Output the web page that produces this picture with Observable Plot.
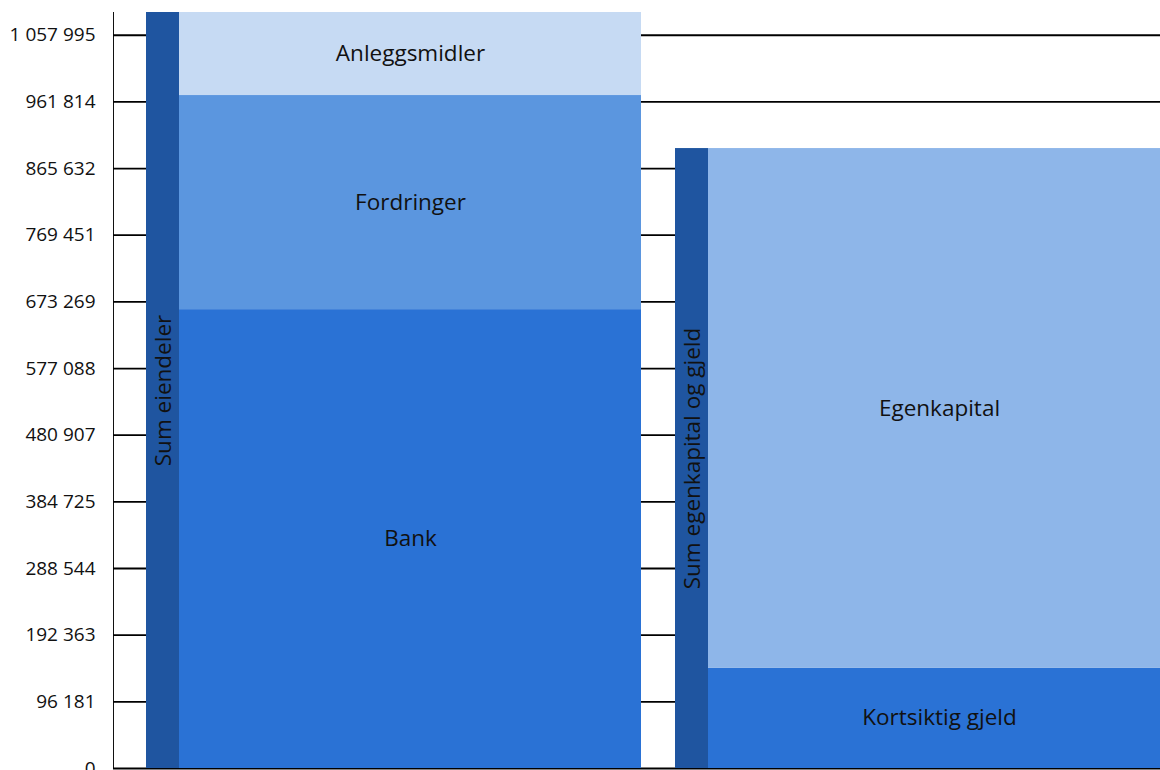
<!DOCTYPE html>
<html>
<head>
<meta charset="utf-8">
<script src="https://cdn.jsdelivr.net/npm/d3@7"></script>
<script src="https://cdn.jsdelivr.net/npm/@observablehq/plot@0.6"></script>
<style>
  html, body { margin: 0; padding: 0; background: #fff; overflow: hidden; }
  #chart { width: 1160px; height: 770px; overflow: hidden; }
</style>
</head>
<body>
<div id="chart"></div>
<script>
// ---- data ----
const groups = ["Eiendeler", "Egenkapital og gjeld"];

const sumLabels = ["Sum eiendeler", "Sum egenkapital og gjeld"];
const sumValues = [1090800, 894500];

const assetLabels = ["Bank", "Fordringer", "Anleggsmidler"];
const assetValues = [662100, 308900, 119800];

const liabLabels = ["Kortsiktig gjeld", "Egenkapital"];
const liabValues = [144900, 749600];

const tickValues = [0, 96181, 192363, 288544, 384725, 480907, 577088, 673269, 769451, 865632, 961814, 1057995];
const tickLabels = ["0", "96 181", "192 363", "288 544", "384 725", "480 907", "577 088", "673 269", "769 451", "865 632", "961 814", "1 057 995"];

const segmentColors = {
  "Bank": "#2A72D5",
  "Fordringer": "#5B96DF",
  "Anleggsmidler": "#C6DAF3",
  "Kortsiktig gjeld": "#2A72D5",
  "Egenkapital": "#8EB6E9"
};
const sumColor = "#1F55A0";

// ---- tables ----
const sums = sumLabels.map((label, i) => ({group: groups[i], label, value: sumValues[i]}));
const segments = [
  ...assetLabels.map((label, i) => ({group: groups[0], label, value: assetValues[i]})),
  ...liabLabels.map((label, i) => ({group: groups[1], label, value: liabValues[i]}))
];
const segLabels = Object.keys(segmentColors);

const bandStep = 529, bandGap = 34, outerGap = 33, narrow = 33;
const bandWidth = bandStep - bandGap;

const chart = Plot.plot({
  width: 1160,
  height: 770,
  marginLeft: 113,
  marginRight: -43,
  marginTop: 12,
  marginBottom: 2,
  style: {fontFamily: "'Open Sans', sans-serif", fontSize: "19px", color: "#111", background: "#fff"},
  x: {
    type: "band",
    domain: groups,
    paddingInner: bandGap / bandStep,
    paddingOuter: outerGap / bandStep,
    axis: null
  },
  y: {
    domain: [0, sumValues[0]],
    ticks: tickValues,
    tickFormat: (d) => tickLabels[tickValues.indexOf(d)],
    tickSize: 0,
    tickPadding: 18,
    label: null,
    line: true
  },
  color: {domain: segLabels, range: segLabels.map(k => segmentColors[k])},
  marks: [
    Plot.gridY(tickValues, {stroke: "#000", strokeOpacity: 1, strokeWidth: 1.8}),
    Plot.barY(sums, {x: "group", y: "value", fill: sumColor, insetRight: bandWidth - narrow}),
    Plot.barY(segments, {x: "group", y: "value", fill: "label", insetLeft: narrow}),
    Plot.text(segments, Plot.stackY({x: "group", y: "value", text: "label", dx: narrow / 2, fontSize: 22.5, fill: "#111"})),
    Plot.text(sums, {x: "group", y: d => d.value / 2, text: "label", rotate: -90, dx: -(bandWidth - narrow) / 2 + 1, fontSize: 22.5, fill: "#111"})
  ]
});
document.getElementById("chart").appendChild(chart);
</script>
</body>
</html>
